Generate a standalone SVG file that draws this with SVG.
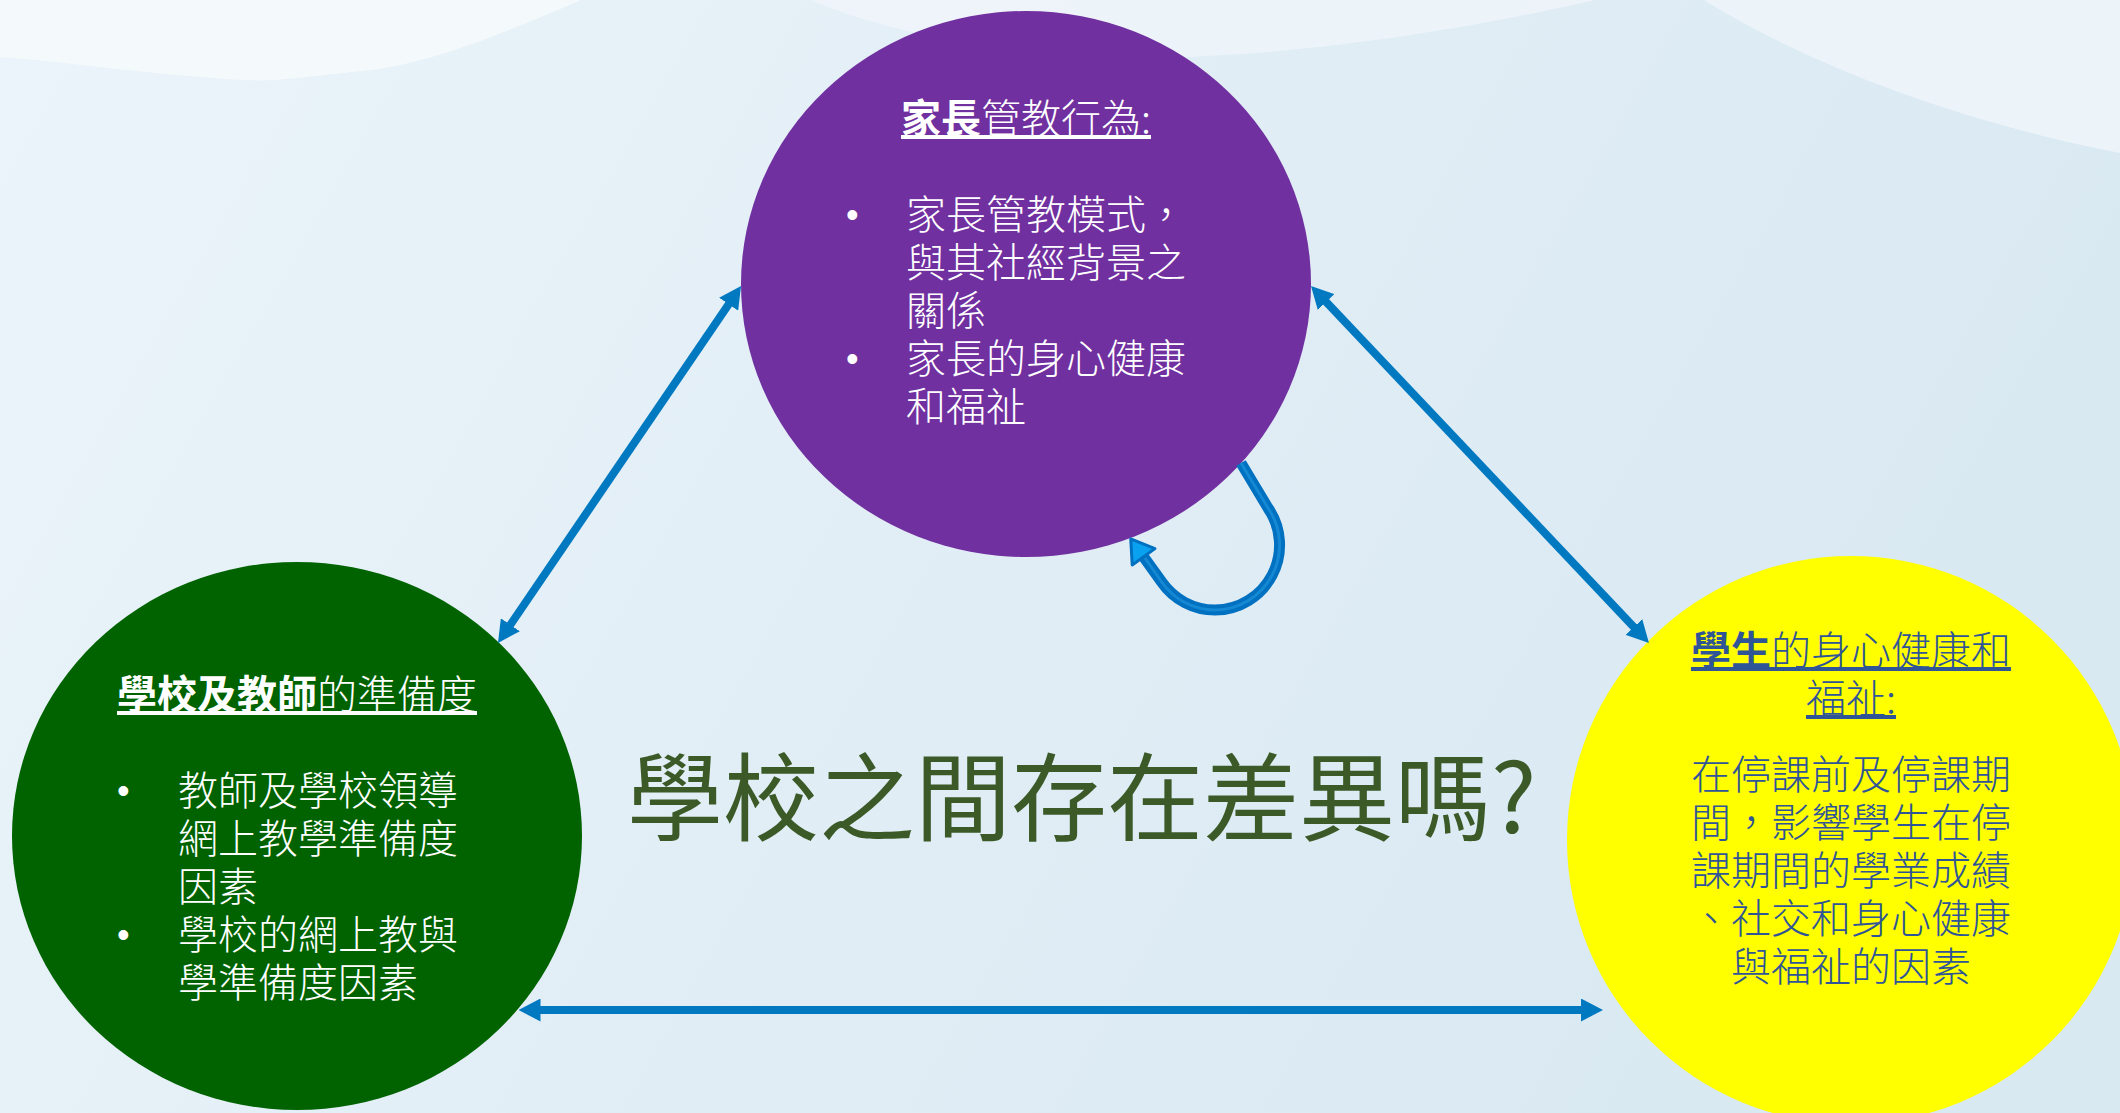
<svg xmlns="http://www.w3.org/2000/svg" width="2120" height="1113" viewBox="0 0 2120 1113">
  <style>
    .t { font-family: "Noto Sans CJK TC", "Noto Sans CJK SC", "Noto Sans", sans-serif; font-size: 40px; font-weight: 300; }
    .w { fill: #ffffff; }
    .bl { fill: #2F5597; }
    .bold { font-weight: 700; }
    .ul { text-decoration: underline; }
    .bul { font-family: "Liberation Sans", "Noto Sans", sans-serif; font-size: 36px; fill: #ffffff; }
    .conn { stroke: #0079C1; stroke-width: 8; fill: none; }
    .head { font-family: "Noto Sans CJK TC", "Noto Sans CJK SC", sans-serif; font-size: 96px; font-weight: 400; fill: #3B5A27; }
  </style>
  <defs>
    <linearGradient id="bg" x1="0" y1="0" x2="1" y2="0.3">
      <stop offset="0" stop-color="#EBF4FA"/>
      <stop offset="0.5" stop-color="#E2EEF6"/>
      <stop offset="1" stop-color="#D9E9F2"/>
    </linearGradient>
    <marker id="ah" markerUnits="userSpaceOnUse" markerWidth="22" markerHeight="23" viewBox="0 0 22 23" refX="4" refY="11.5" orient="auto-start-reverse">
      <path d="M0,0 L22,11.5 L0,23 z" fill="#0079C1"/>
    </marker>
    <marker id="ah2" markerUnits="userSpaceOnUse" markerWidth="30" markerHeight="34" viewBox="-3 -3 30 34" refX="1" refY="14" orient="auto">
      <path d="M0,0 L22,14 L0,28 z" fill="#0AA2F0" stroke="#0070C0" stroke-width="3" stroke-linejoin="round"/>
    </marker>
  </defs>

  <g id="background">
    <rect x="0" y="0" width="2120" height="1113" fill="url(#bg)"/>
    <path d="M0,0 L581,0 C500,35 420,68 352,72 C300,78 270,82 243,80 C160,76 70,62 0,57 Z" fill="#F5F9FC" opacity="0.9"/>
    <path d="M811,0 C900,40 1050,60 1190,57 C1350,50 1500,22 1595,0 Z" fill="#EEF4F9" opacity="0.9"/>
    <path d="M1704,0 C1800,60 1950,120 2120,153 L2120,0 Z" fill="#EDF4F9" opacity="0.9"/>
  </g>

  <g id="node-parents">
    <ellipse cx="1026" cy="284" rx="285" ry="273" fill="#7030A0"/>
    <text class="t w ul" x="1026" y="133" text-anchor="middle"><tspan class="bold">家長</tspan>管教行為:</text>
    <text class="bul"><tspan x="846" y="227">•</tspan><tspan x="846" y="371">•</tspan></text>
    <text class="t w"><tspan x="906" y="229">家長管教模式，</tspan><tspan x="906" y="277">與其社經背景之</tspan><tspan x="906" y="325">關係</tspan><tspan x="906" y="373">家長的身心健康</tspan><tspan x="906" y="421">和福祉</tspan></text>
  </g>

  <g id="node-school">
    <ellipse cx="297" cy="836" rx="285" ry="274" fill="#006300"/>
    <text class="t w ul" x="297" y="709" text-anchor="middle"><tspan class="bold">學校及教師</tspan>的準備度</text>
    <text class="bul"><tspan x="117" y="803">•</tspan><tspan x="117" y="947">•</tspan></text>
    <text class="t w"><tspan x="178" y="805">教師及學校領導</tspan><tspan x="178" y="853">網上教學準備度</tspan><tspan x="178" y="901">因素</tspan><tspan x="178" y="949">學校的網上教與</tspan><tspan x="178" y="997">學準備度因素</tspan></text>
  </g>

  <g id="node-students">
    <circle cx="1851" cy="840" r="284" fill="#FFFF00"/>
    <text class="t bl ul" text-anchor="middle"><tspan x="1851" y="665"><tspan class="bold">學生</tspan>的身心健康和</tspan><tspan x="1851" y="713">福祉:</tspan></text>
    <text class="t bl" text-anchor="middle"><tspan x="1851" y="789">在停課前及停課期</tspan><tspan x="1851" y="837">間，影響學生在停</tspan><tspan x="1851" y="885">課期間的學業成績</tspan><tspan x="1851" y="933">、社交和身心健康</tspan><tspan x="1851" y="981">與福祉的因素</tspan></text>
  </g>

  <g id="heading">
    <text class="head" x="627" y="833">學校之間存在差異嗎?</text>
  </g>

  <g id="connectors">
    <line class="conn" x1="730.9" y1="300.9" x2="508.1" y2="628.1" marker-start="url(#ah)" marker-end="url(#ah)"/>
    <line class="conn" x1="1323.4" y1="299.1" x2="1636.6" y2="629.9" marker-start="url(#ah)" marker-end="url(#ah)"/>
    <line class="conn" x1="536.5" y1="1010" x2="1585" y2="1010" marker-start="url(#ah)" marker-end="url(#ah)"/>
    <path d="M1241,463 L1268,508 A65,65 0 0 1 1215,610 A65,65 0 0 1 1161.7,582 L1143,556" fill="none" stroke="#0070C0" stroke-width="11" stroke-linejoin="round" marker-end="url(#ah2)"/>
    <path d="M1241,463 L1268,508 A65,65 0 0 1 1215,610 A65,65 0 0 1 1161.7,582 L1145,558" fill="none" stroke="#1488D2" stroke-width="3"/>
  </g>
</svg>
